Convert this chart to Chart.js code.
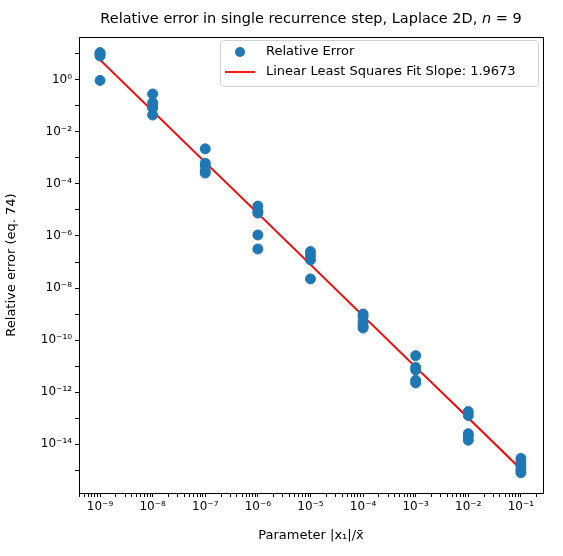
<!DOCTYPE html>
<html>
<head>
<meta charset="utf-8">
<script src="https://cdn.jsdelivr.net/npm/chart.js@4/dist/chart.umd.min.js"></script>
<style>
  html, body { margin: 0; padding: 0; background: #fff; }
  #wrap { width: 563px; height: 556px; }
</style>
</head>
<body>
<div id="wrap"><canvas id="chart" width="563" height="556"></canvas></div>
<script>
// parameter values |x1|/x̄ and log10 of relative errors
const params = [1e-9, 1e-8, 1e-7, 1e-6, 1e-5, 1e-4, 1e-3, 1e-2, 1e-1];
const logErrors = [
  [1.05, 1.0, 0.92, -0.02],
  [-0.54, -0.88, -1.0, -1.08, -1.35],
  [-2.65, -3.2, -3.3, -3.58, -3.5],
  [-4.85, -5.05, -5.12, -5.96, -6.5],
  [-6.6, -6.75, -6.92, -7.65],
  [-9.0, -9.1, -9.3, -9.54, -9.45],
  [-10.6, -11.05, -11.15, -11.55, -11.65],
  [-12.75, -12.9, -13.6, -13.7, -13.85],
  [-14.55, -14.7, -14.85, -15.0, -15.1]
];
const fitLog = [0.77, -1.2, -3.17, -5.13, -7.1, -9.07, -11.04, -13.0, -14.97];
const fitLabel = "Linear Least Squares Fit Slope: 1.9673";
const xTickExp = [-9, -8, -7, -6, -5, -4, -3, -2, -1];
const yTickExp = [-14, -12, -10, -8, -6, -4, -2, 0];

const sup = { "-": "⁻", "0": "⁰", "1": "¹", "2": "²", "3": "³", "4": "⁴", "5": "⁵", "6": "⁶", "7": "⁷", "8": "⁸", "9": "⁹" };
const pow10 = (e) => "10" + String(e).split("").map((c) => sup[c]).join("");

const scatter = [];
params.forEach((p, i) => logErrors[i].forEach((v) => scatter.push({ x: p, y: Math.pow(10, v) })));
const fitPoints = params.map((p, i) => ({ x: p, y: Math.pow(10, fitLog[i]) }));

function decadeTicks(scale, lo, hi) {
  const ticks = [];
  for (let e = lo; e <= hi; e++) {
    for (let m = 1; m < 10; m++) {
      const v = m * Math.pow(10, e);
      if (v >= scale.min && v <= scale.max) ticks.push({ value: v, major: m === 1 });
    }
  }
  scale.ticks = ticks;
}

const overlay = {
  id: "overlay",
  afterDraw(chart) {
    const { ctx, chartArea: a } = chart;
    ctx.save();
    ctx.strokeStyle = "#000";
    ctx.lineWidth = 1;
    ctx.strokeRect(a.left + 0.5, a.top + 0.5, a.right - a.left, a.bottom - a.top);
    ctx.fillStyle = "#000";
    ctx.font = "14.5px 'DejaVu Sans'";
    const t1 = "Relative error in single recurrence step, Laplace 2D, ";
    const w1 = ctx.measureText(t1).width;
    ctx.font = "italic 14.5px 'DejaVu Sans'";
    const wn = ctx.measureText("n").width;
    ctx.font = "14.5px 'DejaVu Sans'";
    const w3 = ctx.measureText(" = 9").width;
    let sx = 311 - (w1 + wn + w3) / 2;
    ctx.textAlign = "left";
    ctx.textBaseline = "middle";
    ctx.fillText(t1, sx, 19);
    ctx.font = "italic 14.5px 'DejaVu Sans'";
    ctx.fillText("n", sx + w1, 19);
    ctx.font = "14.5px 'DejaVu Sans'";
    ctx.fillText(" = 9", sx + w1 + wn, 19);
    // legend
    const lx = 220, ly = 40, lw = 318, lh = 46;
    ctx.fillStyle = "rgba(255,255,255,0.8)";
    ctx.strokeStyle = "#d0d0d0";
    ctx.beginPath();
    ctx.roundRect(lx + 0.5, ly + 0.5, lw, lh, 3);
    ctx.fill();
    ctx.stroke();
    ctx.fillStyle = "#1f77b4";
    ctx.beginPath();
    ctx.arc(lx + 20, ly + 12, 5, 0, Math.PI * 2);
    ctx.fill();
    ctx.strokeStyle = "red";
    ctx.lineWidth = 1.8;
    ctx.beginPath();
    ctx.moveTo(lx + 5, ly + 32);
    ctx.lineTo(lx + 35, ly + 32);
    ctx.stroke();
    ctx.fillStyle = "#000";
    ctx.font = "13px 'DejaVu Sans'";
    ctx.fillText("Relative Error", lx + 46, ly + 12);
    ctx.fillText(fitLabel, lx + 46, ly + 32);
    ctx.restore();
  }
};

new Chart(document.getElementById("chart"), {
  type: "scatter",
  data: {
    datasets: [
      { label: "Relative Error", data: scatter, backgroundColor: "#1f77b4", borderColor: "#1f77b4", pointRadius: 5, pointHoverRadius: 5 },
      { type: "line", label: fitLabel, data: fitPoints, borderColor: "red", borderWidth: 2, pointRadius: 0, fill: false, tension: 0 }
    ]
  },
  options: {
    responsive: false,
    animation: false,
    layout: { padding: { top: 37, right: 20, left: 0, bottom: 9 } },
    plugins: { legend: { display: false }, tooltip: { enabled: false } },
    scales: {
      x: {
        type: "logarithmic",
        min: Math.pow(10, -9.4),
        max: Math.pow(10, -0.58),
        afterBuildTicks: (s) => decadeTicks(s, -10, 0),
        afterFit: (s) => { s.height = 54; },
        grid: { drawOnChartArea: false, color: "#000", tickLength: 4, tickColor: "#000" },
        border: { display: false },
        ticks: {
          autoSkip: false, maxRotation: 0, color: "#000", font: { family: "DejaVu Sans", size: 12 },
          callback: (v) => { const e = Math.round(Math.log10(v)); return Math.abs(v - Math.pow(10, e)) < 1e-6 * v && xTickExp.includes(e) ? pow10(e) : ""; }
        },
        title: { display: true, text: "Parameter |x₁|/x̄", color: "#000", font: { family: "DejaVu Sans", size: 13 }, padding: { top: 2 } }
      },
      y: {
        type: "logarithmic",
        min: Math.pow(10, -15.88),
        max: Math.pow(10, 1.65),
        afterBuildTicks: (s) => {
          const t = [];
          for (let e = -16; e <= 2; e++) { const v = Math.pow(10, e); if (v >= s.min && v <= s.max) t.push({ value: v, major: true }); }
          s.ticks = t;
        },
        afterFit: (s) => { s.width = 79; },
        grid: { drawOnChartArea: false, color: "#000", tickColor: "#000", tickLength: 4 },
        border: { display: false },
        ticks: {
          autoSkip: false, color: "#000", font: { family: "DejaVu Sans", size: 12 },
          callback: (v) => { const e = Math.round(Math.log10(v)); return yTickExp.includes(e) ? pow10(e) : ""; }
        },
        title: { display: true, text: "Relative error (eq. 74)", color: "#000", font: { family: "DejaVu Sans", size: 13 } }
      }
    }
  },
  plugins: [overlay]
});
</script>
</body>
</html>
